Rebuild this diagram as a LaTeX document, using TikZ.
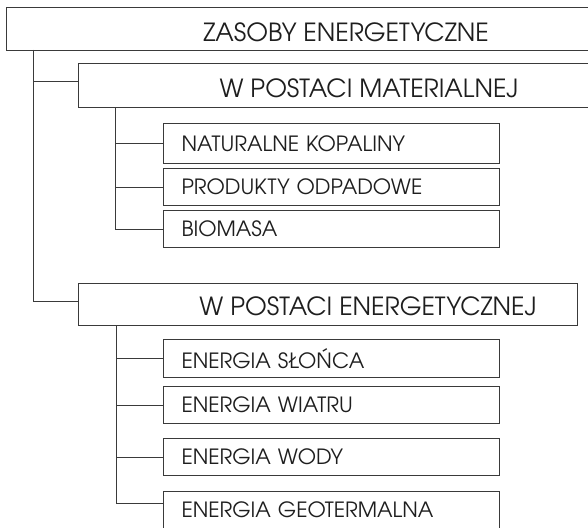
\documentclass[tikz,border=0pt]{standalone}
\usepackage{fontspec}
\setmainfont{texgyreadventor-regular.otf}
\definecolor{ln}{HTML}{3A3A3A}
\definecolor{tx}{HTML}{1E1E1E}
\begin{document}
\begin{tikzpicture}[x=1pt,y=-1pt,
  box/.style={draw=ln,line width=1.1pt,inner sep=0pt,anchor=north west},
  bigtext/.style={font=\fontsize{25}{27}\selectfont,text=tx},
  leaftext/.style={font=\fontsize{21}{23}\selectfont,text=tx,align=left,text width=#1,inner xsep=18pt},
  conn/.style={draw=ln,line width=1pt}]
\useasboundingbox (0,0) rectangle (588,527);
\begin{scope}
\clip (0,0) rectangle (588,527);
% boxes
\node[box,minimum width=600pt,minimum height=43pt] (top) at (6,7) {};
\node[bigtext] (toptxt) at (346,32) {ZASOBY ENERGETYCZNE};
\node[box,minimum width=530pt,minimum height=44pt] (mat) at (78,63) {};
\node[bigtext] (mattxt) at (369,88) {W POSTACI MATERIALNEJ};
\node[box,minimum width=499pt,minimum height=42pt] (en) at (78,283) {};
\node[bigtext] (entxt) at (368,306) {W POSTACI ENERGETYCZNEJ};
% leaves
\node[box,minimum width=335pt,minimum height=40pt,leaftext=300pt] (n1) at (163,123) {NATURALNE KOPALINY};
\node[box,minimum width=335pt,minimum height=37pt,leaftext=300pt] (n2) at (163,168) {PRODUKTY ODPADOWE};
\node[box,minimum width=335pt,minimum height=37pt,leaftext=300pt] (n3) at (163,210) {BIOMASA};
\node[box,minimum width=335pt,minimum height=38pt,leaftext=300pt] (s1) at (163,339) {ENERGIA SŁOŃCA};
\node[box,minimum width=335pt,minimum height=37pt,leaftext=300pt] (s2) at (163,386) {ENERGIA WIATRU};
\node[box,minimum width=335pt,minimum height=37pt,leaftext=300pt] (s3) at (163,438) {ENERGIA WODY};
\node[box,minimum width=335pt,minimum height=37pt,leaftext=300pt] (s4) at (163,491) {ENERGIA GEOTERMALNA};
% connectors
\coordinate (trunk) at (33,50);
\coordinate (mtrunk) at (115,107);
\coordinate (etrunk) at (116,325);
\draw[conn] (trunk) |- ([yshift=4pt]mat.west);
\draw[conn] (trunk) |- ([yshift=3pt]en.west);
\draw[conn] (mtrunk) |- (n1.west);
\draw[conn] (mtrunk) |- (n2.west);
\draw[conn] (mtrunk) |- (n3.west);
\draw[conn] (etrunk) |- (s1.west);
\draw[conn] (etrunk) |- (s2.west);
\draw[conn] (etrunk) |- (s3.west);
\draw[conn] (etrunk) |- ([yshift=7pt]s4.west);
\end{scope}
\end{tikzpicture}
\end{document}
